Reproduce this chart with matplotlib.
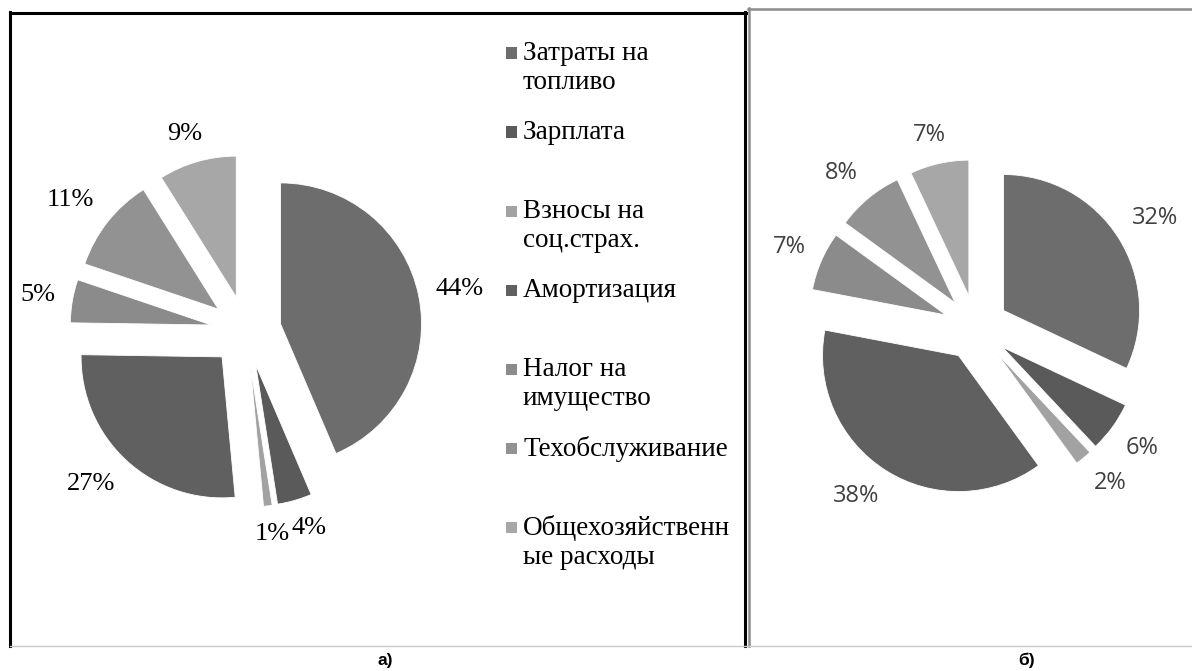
import matplotlib
matplotlib.use("Agg")
import matplotlib.pyplot as plt
import numpy as np
from matplotlib.lines import Line2D
from matplotlib.patches import Rectangle
from matplotlib.transforms import ScaledTranslation

W, H = 1192, 671

CATEGORIES = ["Затраты на\nтопливо", "Зарплата", "Взносы на\nсоц.страх.",
              "Амортизация", "Налог на\nимущество", "Техобслуживание",
              "Общехозяйственн\nые расходы"]
SHARE_A = [44, 4, 1, 27, 5, 11, 9]
SHARE_B = [32, 6, 2, 38, 7, 8, 7]
COLORS = ["#6d6d6d", "#5a5a5a", "#a2a2a2", "#606060",
          "#8b8b8b", "#929292", "#a7a7a7"]
PANEL_TAGS = ["а)", "б)"]


def fx(x):
    return x / W


def fy(y):
    return 1 - y / H


def pie_axes(fig, cx, cy, r, half):
    ax = fig.add_axes([fx(cx - half), fy(cy + half), 2 * half / W, 2 * half / H])
    return ax, half / r


def shift(t, dx, dy):
    fig = t.figure
    t.set_transform(t.get_transform() +
                    ScaledTranslation(dx / fig.dpi, dy / fig.dpi, fig.dpi_scale_trans))


def draw_pie(ax, lim, values, explode, font):
    wedges, _, autos = ax.pie(
        values, colors=COLORS, startangle=90, counterclock=False,
        explode=[explode] * len(values), autopct=lambda p: f"{p:.0f}%",
        pctdistance=1.12, wedgeprops=dict(edgecolor="white", linewidth=0.6))
    ax.set_xlim(-lim, lim)
    ax.set_ylim(-lim, lim)
    ax.set_aspect("equal")
    rend = ax.figure.canvas.get_renderer()
    # outside-end style: push each label box off the slice by its half size
    for t in autos:
        t.set(ha="center", va="center", **font)
        x, y = t.get_position()
        c, s = np.array([x, y]) / np.hypot(x, y)
        bb = t.get_window_extent(rend)
        shift(t, np.clip(c / 0.6, -1, 1) * bb.width / 2,
              np.clip(s / 0.6, -1, 1) * bb.height / 2)
    # neighbouring labels that collide are pushed apart sideways
    for a, b in zip(autos[:-1], autos[1:]):
        ba, bb = a.get_window_extent(rend), b.get_window_extent(rend)
        if ba.overlaps(bb):
            over = min(ba.x1, bb.x1) - max(ba.x0, bb.x0) + 1
            left, right = (a, b) if ba.x0 < bb.x0 else (b, a)
            shift(left, -over / 2, 0)
            shift(right, over / 2, 0)
    return wedges


fig = plt.figure(figsize=(W / 100, H / 100), dpi=100)

# panel frames (pixel coords, y from top)
def hline(x0, x1, y, **kw):
    fig.add_artist(Line2D([fx(x0), fx(x1)], [fy(y), fy(y)], **kw))


def vline(x, y0, y1, **kw):
    fig.add_artist(Line2D([fx(x), fx(x)], [fy(y0), fy(y1)], **kw))


hline(10, 746, 13, color="black", lw=2.2)
vline(10, 12, 646, color="black", lw=2.2)
vline(745, 12, 646, color="black", lw=2.2)
hline(748, 1192, 9, color="#8c8c8c", lw=1.8)
vline(748.5, 8, 646, color="#8c8c8c", lw=1.8)
hline(10, 1192, 646, color="#c8c8c8", lw=1.0)

# a) pie
ax_a, lim_a = pie_axes(fig, 246, 331, 141, 240)
wedges = draw_pie(ax_a, lim_a, SHARE_A, 0.25,
                  dict(family="Liberation Serif", fontsize=19, color="black"))

# legend of panel a): first text line centred on the square
for i, (name, w) in enumerate(zip(CATEGORIES, wedges)):
    yc = 53 + i * 79
    fig.add_artist(Rectangle((fx(506), fy(yc + 5.5)), 11 / W, 11 / H,
                             transform=fig.transFigure,
                             facecolor=w.get_facecolor(), edgecolor="none"))
    fig.text(fx(523), fy(yc - 12), name, family="Liberation Serif",
             fontsize=19.5, ha="left", va="top", linespacing=1.2,
             color="black")

# b) pie
ax_b, lim_b = pie_axes(fig, 976, 328, 136, 215)
draw_pie(ax_b, lim_b, SHARE_B, 0.24,
         dict(family="Open Sans", fontsize=17, color="#404040"))

for tag, x in zip(PANEL_TAGS, (385, 1027)):
    fig.text(fx(x), fy(660), tag, family="Liberation Sans", fontsize=12.5,
             fontweight="bold", ha="center", va="center")

fig.savefig("out.png", dpi=100)
